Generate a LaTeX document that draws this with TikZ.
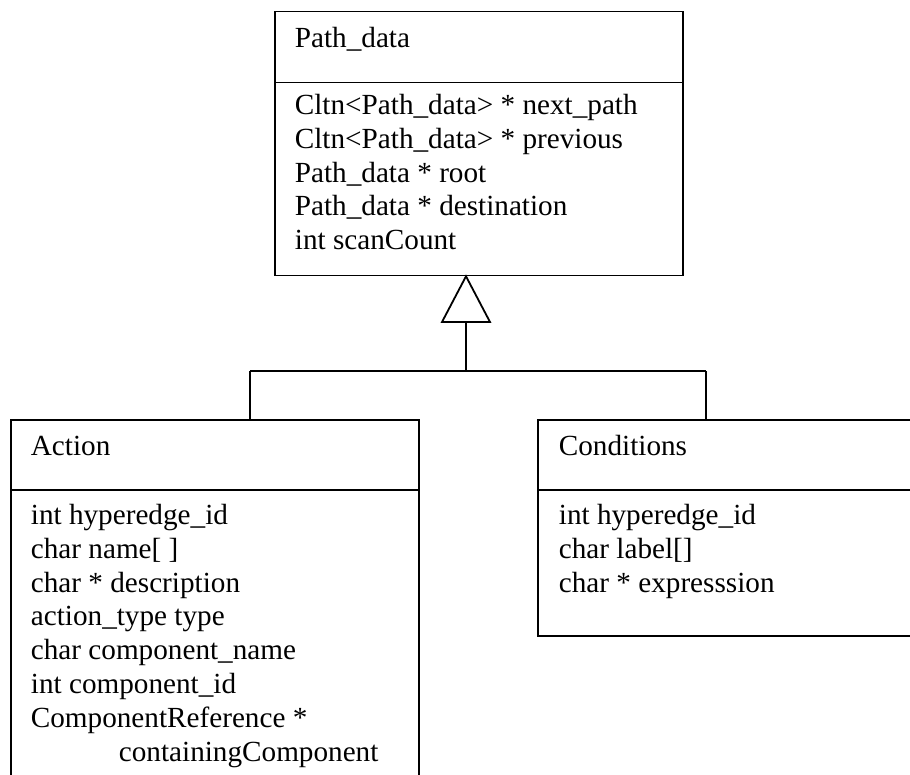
\documentclass[tikz,border=0pt]{standalone}
\usepackage{fontspec}
\setmainfont{Liberation Serif}
\begin{document}
\begin{tikzpicture}[x=1pt,y=-1pt, line width=1.8pt,
  classbox/.style={draw, rectangle, inner sep=0pt, anchor=north west},
  member/.style={anchor=base west, inner sep=0pt, font=\fontsize{29.2}{33.7}\selectfont}]
\useasboundingbox (0,0) rectangle (910,774);
\clip (0,0) rectangle (910,774);

% class Path_data
\node[classbox, minimum width=408pt, minimum height=264pt] (pd) at (274,10.5) {};
\draw ([yshift=-72pt]pd.north west) -- ([yshift=-72pt]pd.north east);
\node[member] (pdname) at (294,47) {Path\_data};
\node[member] (pd1) at (294,114) {Cltn<Path\_data> * next\_path};
\node[member] (pd2) at (294,148) {Cltn<Path\_data> * previous};
\node[member] (pd3) at (294,182) {Path\_data * root};
\node[member] (pd4) at (294,215) {Path\_data * destination};
\node[member] (pd5) at (294,249) {int scanCount};

% class Action (runs past the lower edge)
\node[classbox, minimum width=408pt, minimum height=400pt] (act) at (10,419) {};
\draw ([yshift=-71pt]act.north west) -- ([yshift=-71pt]act.north east);
\node[member] (actname) at (30,455) {Action};
\node[member] (act1) at (30,524) {int hyperedge\_id};
\node[member] (act2) at (30,558) {char name[ ]};
\node[member] (act3) at (30,592) {char * description};
\node[member] (act4) at (30,625) {action\_type type};
\node[member] (act5) at (30,659) {char component\_name};
\node[member] (act6) at (30,693) {int component\_id};
\node[member] (act7) at (30,727) {ComponentReference *};
\node[member] (act8) at (118,761) {containingComponent};

% class Conditions (runs past the right edge)
\node[classbox, minimum width=400pt, minimum height=216pt] (cond) at (537,419) {};
\draw ([yshift=-71pt]cond.north west) -- ([yshift=-71pt]cond.north east);
\node[member] (condname) at (558,455) {Conditions};
\node[member] (cond1) at (558,524) {int hyperedge\_id};
\node[member] (cond2) at (558,558) {char label[]};
\node[member] (cond3) at (558,592) {char * expresssion};

% generalization: hollow triangle under Path_data, tree to both subclasses
\coordinate (apex) at (pd.south west -| 466,0);
\coordinate (tribase) at (466,322);
\coordinate (fork) at (466,371);
\coordinate (actup) at (250,371);
\coordinate (condup) at (706,371);
\draw[line join=miter] (apex) -- (442,322) -- (490,322) -- cycle;
\draw (tribase) -- (fork);
\draw (actup) -- (condup);
\draw (actup) -- (actup |- act.north);
\draw (condup) -- (condup |- cond.north);
\end{tikzpicture}
\end{document}
